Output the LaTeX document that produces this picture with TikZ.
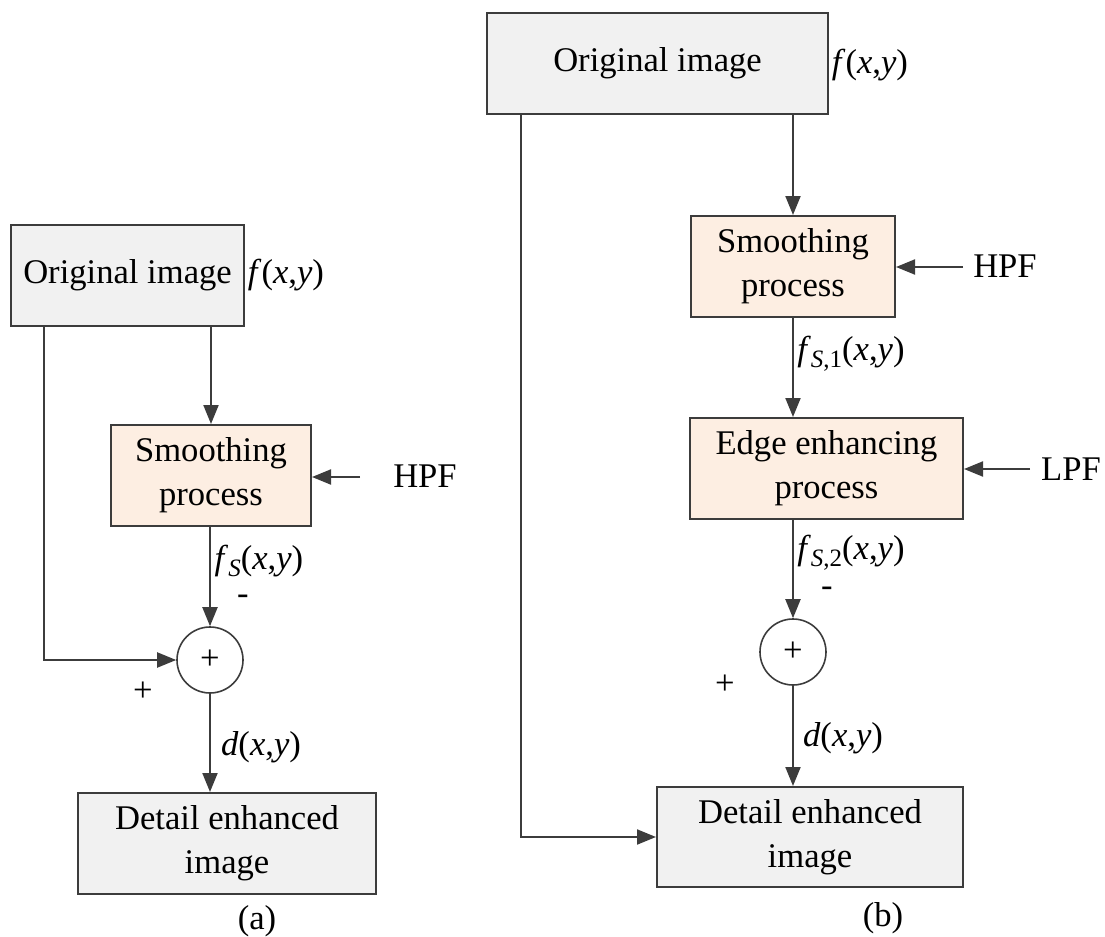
\documentclass[tikz,border=0pt]{standalone}
\usepackage{fontspec}
\setmainfont{Liberation Serif}
\usetikzlibrary{arrows.meta}
\definecolor{boxgray}{HTML}{F1F1F1}
\definecolor{boxorange}{HTML}{FDEEE2}
\definecolor{linegray}{HTML}{3C3C3C}
\newcommand{\fxy}{\textit{f}(\textit{x},\textit{y})}
\newcommand{\dxy}{\textit{d}(\textit{x},\textit{y})}
\newcommand{\subsc}[1]{\raisebox{-0.45ex}{\fontsize{12.5}{12.5}\selectfont #1}}
\begin{document}
\begin{tikzpicture}[x=0.5pt,y=-0.5pt,
  every node/.style={font=\fontsize{17.3}{22}\selectfont},
  blk/.style={draw=linegray,line width=1pt,inner sep=0pt,align=center},
  graybox/.style={blk,fill=boxgray},
  orangebox/.style={blk,fill=boxorange},
  sumnode/.style={draw=linegray,line width=0.8pt,circle,minimum size=33pt,inner sep=0pt},
  lbl/.style={inner sep=0pt},
  arr/.style={draw=linegray,line width=1pt,-{Triangle[length=9.5pt,width=7.5pt]}},
  ln/.style={draw=linegray,line width=1pt}]
\useasboundingbox (0,0) rectangle (1105,937);
% ---------- panel (a)
\node[graybox,minimum width=116.5pt,minimum height=50.5pt] (oa) at (127.5,275.5) {Original image};
\node[orangebox,minimum width=100pt,minimum height=50.5pt] (sa) at (211,475.5) {Smoothing\\process};
\node[sumnode] (ca) at (210,660) {+};
\node[graybox,minimum width=149pt,minimum height=50.5pt] (da) at (227,843.5) {Detail enhanced\\image};
\node[lbl] (fa) at (286,275) {\fxy};
\node[lbl] (hpfa) at (425,476) {HPF};
\node[lbl] (fsa) at (259,561) {\textit{f}\subsc{\textit{S}}(\textit{x},\textit{y})};
\node[lbl] (ma) at (243,600) {-};
\node[lbl] (pa) at (143,692) {+};
\node[lbl] (dla) at (261,747) {\dxy};
\node[lbl] (capa) at (257,921) {(a)};
\coordinate (la) at (44,326);
\coordinate (ha) at (360,477);
\draw[arr] (sa.north |- oa.south) -- (sa.north);
\draw[arr] (ha) -- (ha -| sa.east);
\draw[arr] (sa.south -| ca.north) -- (ca.north);
\draw[arr] (la) |- (ca.west);
\draw[arr] (ca.south) -- (ca.south |- da.north);
% ---------- panel (b)
\node[graybox,minimum width=170.5pt,minimum height=50.5pt] (ob) at (657.5,63.5) {Original image};
\node[orangebox,minimum width=102pt,minimum height=50.5pt] (sb) at (793,266.5) {Smoothing\\process};
\node[orangebox,minimum width=136.5pt,minimum height=50.5pt] (eb) at (826.5,468.5) {Edge enhancing\\process};
\node[sumnode] (cb) at (793,652) {+};
\node[graybox,minimum width=153pt,minimum height=50pt] (db) at (810,837) {Detail enhanced\\image};
\node[lbl] (fb) at (870,65) {\fxy};
\node[lbl] (hpfb) at (1005,266) {HPF};
\node[lbl] (lpfb) at (1071,469) {LPF};
\node[lbl] (fs1b) at (851,354) {\textit{f}\subsc{\textit{S},1}(\textit{x},\textit{y})};
\node[lbl] (fs2b) at (851,553) {\textit{f}\subsc{\textit{S},2}(\textit{x},\textit{y})};
\node[lbl] (mb) at (827,592) {-};
\node[lbl] (pb) at (725,685) {+};
\node[lbl] (dlb) at (843,738) {\dxy};
\node[lbl] (capb) at (883,918) {(b)};
\coordinate (lb) at (521,114);
\coordinate (hb) at (963,267);
\coordinate (lpb) at (1030,469);
\draw[arr] (sb.north |- ob.south) -- (sb.north);
\draw[arr] (hb) -- (hb -| sb.east);
\draw[arr] (sb.south) -- (sb.south |- eb.north);
\draw[arr] (lpb) -- (lpb -| eb.east);
\draw[arr] (eb.south -| cb.north) -- (cb.north);
\draw[arr] (cb.south) -- (cb.south |- db.north);
\draw[arr] (lb) |- (db.west);
\end{tikzpicture}
\end{document}
